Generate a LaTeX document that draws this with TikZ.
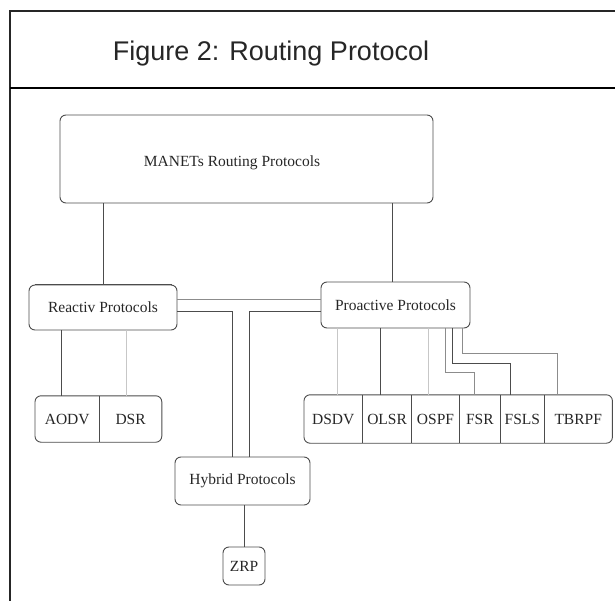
\documentclass[tikz,border=0pt]{standalone}
\usepackage{fontspec}
\setmainfont{Liberation Serif}
\newfontfamily\titlefont{Liberation Sans}
\usetikzlibrary{calc}
\definecolor{edge}{gray}{0.30}
\definecolor{lite}{gray}{0.78}
\definecolor{mid}{gray}{0.55}
\tikzset{
  box/.style={draw=edge, line width=0.9pt, rounded corners=6pt, inner sep=0pt,
    font=\fontsize{15.5}{18}\selectfont, text=black!85},
  cell/.style={inner sep=0pt, minimum height=48pt, anchor=west,
    font=\fontsize{15.5}{18}\selectfont, text=black!85},
  wire/.style={draw=edge, line width=0.9pt},
  litewire/.style={draw=lite, line width=0.9pt},
  midwire/.style={draw=mid, line width=0.9pt},
}
\begin{document}
\begin{tikzpicture}[x=1pt, y=-1pt]
\useasboundingbox (0,0) rectangle (615,601);
% frame and title band
\draw[line width=1.3pt, black!85] (615,11) -- (10,11) -- (10,601);
\draw[line width=2pt, black] (10,88) -- (615,88);
\node[font=\titlefont\fontsize{27}{30}\selectfont, text=black!85] (title) at (271,54) {Figure 2: Routing Protocol};

% main boxes
\node[box, minimum width=373pt, minimum height=88pt] (manet) at (246.5,159) {};
\node[font=\fontsize{15.5}{18}\selectfont, text=black!85] (manettxt) at (232,163) {MANETs Routing Protocols};
\node[box, minimum width=148pt, minimum height=45pt] (reac) at (103,307.5) {Reactiv Protocols};
\draw[line width=1.8pt, edge] ([xshift=6pt]reac.north west) -- ([xshift=-5pt]reac.north east);
\node[box, minimum width=149pt, minimum height=46pt] (proa) at (395.5,305) {Proactive Protocols};
\node[box, minimum width=135pt, minimum height=48pt] (hyb) at (242.5,481) {Hybrid Protocols};
\node[box, minimum width=42pt, minimum height=38pt] (zrp) at (244,566) {ZRP};

% reactive leaves
\node[cell, minimum width=64pt, minimum height=46pt] (aodv) at (35,419) {AODV};
\node[cell, minimum width=62pt, minimum height=46pt] (dsr) at (aodv.east) {DSR};
\draw[draw=edge, line width=0.9pt, rounded corners=6pt] (aodv.north west) rectangle (dsr.south east);
\draw[wire] (aodv.north east) -- (aodv.south east);

% proactive leaves
\node[cell, minimum width=58pt] (dsdv) at (304,419) {DSDV};
\node[cell, minimum width=49pt] (olsr) at (dsdv.east) {OLSR};
\node[cell, minimum width=47pt] (ospf) at (olsr.east) {OSPF};
\node[cell, minimum width=41pt] (fsr) at (ospf.east) {FSR};
\node[cell, minimum width=43pt] (fsls) at (fsr.east) {FSLS};
\node[cell, minimum width=68pt] (tbrpf) at (fsls.east) {TBRPF};
\draw[draw=edge, line width=0.9pt, rounded corners=6pt] (dsdv.north west) rectangle (tbrpf.south east);
\foreach \c in {dsdv,olsr,ospf,fsr,fsls}
  \draw[wire] (\c.north east) -- (\c.south east);

% connectors
\draw[wire] (reac.north |- manet.south) -- (reac.north);
\draw[wire] ($(proa.north |- manet.south)+(-3.5,0)$) -- ($(proa.north)+(-3.5,0)$);
\draw[midwire] ($(reac.east)+(0,-8.5)$) -- ($(proa.west)+(0,-6)$);
\draw[wire] ($(reac.east)+(0,3.5)$) -| ($(hyb.north)+(-10.5,0)$);
\draw[wire] ($(proa.west)+(0,6)$) -| ($(hyb.north)+(6.5,0)$);
\draw[wire] (zrp.north |- hyb.south) -- (zrp.north);
\draw[wire] ($(aodv.north |- reac.south)+(-6,0)$) -- ($(aodv.north)+(-6,0)$);
\draw[litewire] ($(dsr.north |- reac.south)+(-4,0)$) -- ($(dsr.north)+(-4,0)$);
\draw[litewire] ($(dsdv.north |- proa.south)+(4,0)$) -- ($(dsdv.north)+(4,0)$);
\draw[wire] ($(olsr.north |- proa.south)+(-6.5,0)$) -- ($(olsr.north)+(-6.5,0)$);
\draw[litewire] ($(ospf.north |- proa.south)+(-7.5,0)$) -- ($(ospf.north)+(-7.5,0)$);
\draw[midwire] ($(proa.south)+(49.5,0)$) |- ($(fsr.north)+(-5.5,-22)$) -- ($(fsr.north)+(-5.5,0)$);
\draw[wire] ($(proa.south)+(56.5,0)$) |- ($(fsls.north)+(-11.5,-31)$) -- ($(fsls.north)+(-11.5,0)$);
\draw[midwire] ($(proa.south)+(66.5,0)$) |- ($(tbrpf.north)+(-21,-41)$) -- ($(tbrpf.north)+(-21,0)$);
\end{tikzpicture}
\end{document}
